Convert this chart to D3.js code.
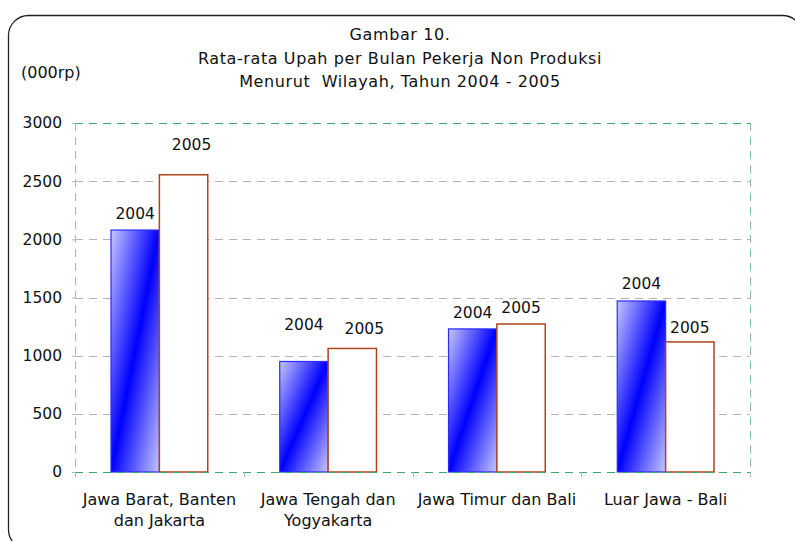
<!DOCTYPE html>
<html>
<head>
<meta charset="utf-8">
<script src="https://cdnjs.cloudflare.com/ajax/libs/d3/7.8.5/d3.min.js"></script>
<style>
  body { margin: 0; background: #fff; }
  svg { display: block; font-family: "DejaVu Sans", Verdana, sans-serif; }
</style>
</head>
<body>
<div id="chart"></div>
<script>
// data
var regions = [["Jawa Barat, Banten", "dan Jakarta"], ["Jawa Tengah dan", "Yogyakarta"], ["Jawa Timur dan Bali"], ["Luar Jawa - Bali"]];
var years = ["2004", "2005"];
var wage2004 = [2080, 950, 1230, 1470];
var wage2005 = [2555, 1062, 1272, 1118];
var yTicks = [0, 500, 1000, 1500, 2000, 2500, 3000];
var titleLines = ["Gambar 10.", "Rata-rata Upah per Bulan Pekerja Non Produksi", "Menurut  Wilayah, Tahun 2004 - 2005"];

// label nudges (px) for the year labels, as placed in the original
var labelLift2004 = [11, 31, 11, 12];
var labelLift2005 = [25, 14, 11, 9];
var labelShift2005 = [8, 12, 0, 0];

var W = 795, H = 541;
var margin = {top: 123, right: 45, bottom: 69, left: 75};
var width = W - margin.left - margin.right,
    height = H - margin.top - margin.bottom;

var svg = d3.select("#chart").append("svg")
    .attr("width", W)
    .attr("height", H);

var defs = svg.append("defs");
var grad = defs.append("linearGradient")
    .attr("id", "blueGrad")
    .attr("x1", 0).attr("y1", 0)
    .attr("x2", 1).attr("y2", 1);
grad.append("stop").attr("offset", "0%").attr("stop-color", "#c6c6ff");
grad.append("stop").attr("offset", "50%").attr("stop-color", "#0000ff");
grad.append("stop").attr("offset", "100%").attr("stop-color", "#c6c6ff");

// outer rounded frame
svg.append("rect")
    .attr("x", 8.5).attr("y", 15.5)
    .attr("width", 794).attr("height", 534)
    .attr("rx", 20).attr("ry", 20)
    .attr("fill", "none")
    .attr("stroke", "#222")
    .attr("stroke-width", 1.3);

// titles
svg.append("g").selectAll("text")
    .data(titleLines)
    .enter().append("text")
    .attr("x", 400)
    .attr("y", function (d, i) { return 40 + i * 23.5; })
    .attr("text-anchor", "middle")
    .attr("font-size", "16px")
    .attr("letter-spacing", "0.6px")
    .style("white-space", "pre")
    .attr("fill", "#111")
    .text(function (d) { return d; });

svg.append("text")
    .attr("x", 21).attr("y", 78)
    .attr("font-size", "16px")
    .attr("fill", "#111")
    .text("(000rp)");

var g = svg.append("g").attr("transform", "translate(" + margin.left + "," + margin.top + ")");

var x0 = d3.scaleBand()
    .domain(d3.range(regions.length))
    .range([0, width])
    .paddingInner(0)
    .paddingOuter(0);

var x1 = d3.scaleBand()
    .domain(years)
    .range([36, x0.bandwidth() - 36]);

var y = d3.scaleLinear()
    .domain([0, 3000])
    .range([height, 0]);

// grey gridlines
g.append("g").selectAll("line")
    .data(yTicks.filter(function (d) { return d > 0 && d < 3000; }))
    .enter().append("line")
    .attr("x1", 0).attr("x2", width)
    .attr("y1", function (d) { return Math.round(y(d)) + 0.5; })
    .attr("y2", function (d) { return Math.round(y(d)) + 0.5; })
    .attr("stroke", "#b4b4b4")
    .attr("stroke-dasharray", "8,6");

// y axis
var axisY = g.append("g")
    .call(d3.axisLeft(y).tickValues(yTicks).tickFormat(d3.format("d")).tickSize(3).tickPadding(10));
axisY.select(".domain").remove();
axisY.selectAll("line").attr("stroke", "#9fc0b0");
axisY.selectAll("text")
    .attr("font-size", "15.5px")
    .attr("font-family", "DejaVu Sans")
    .attr("fill", "#111");

// bars
var groups = g.selectAll(".grp")
    .data(regions)
    .enter().append("g")
    .attr("class", "grp")
    .attr("transform", function (d, i) { return "translate(" + x0(i) + ",0)"; });

groups.append("rect")
    .attr("x", x1("2004"))
    .attr("y", function (d, i) { return y(wage2004[i]); })
    .attr("width", x1.bandwidth())
    .attr("height", function (d, i) { return height - y(wage2004[i]); })
    .attr("fill", "url(#blueGrad)")
    .attr("stroke", "#2a2aff")
    .attr("stroke-width", 1.2);

groups.append("rect")
    .attr("x", x1("2005"))
    .attr("y", function (d, i) { return y(wage2005[i]); })
    .attr("width", x1.bandwidth())
    .attr("height", function (d, i) { return height - y(wage2005[i]); })
    .attr("fill", "#fff")
    .attr("stroke", "#b0441c")
    .attr("stroke-width", 1.5);

// year labels
groups.append("text")
    .attr("x", x1("2004") + x1.bandwidth() / 2)
    .attr("y", function (d, i) { return y(wage2004[i]) - labelLift2004[i]; })
    .attr("text-anchor", "middle")
    .attr("font-size", "15.5px")
    .attr("fill", "#111")
    .text("2004");

groups.append("text")
    .attr("x", function (d, i) { return x1("2005") + x1.bandwidth() / 2 + labelShift2005[i]; })
    .attr("y", function (d, i) { return y(wage2005[i]) - labelLift2005[i]; })
    .attr("text-anchor", "middle")
    .attr("font-size", "15.5px")
    .attr("fill", "#111")
    .text("2005");

// green dashed plot frame
var green = "#3aa86a";
g.append("line")
    .attr("x1", 0).attr("x2", width).attr("y1", 0.5).attr("y2", 0.5)
    .attr("stroke", green).attr("stroke-dasharray", "8,6");
g.append("line")
    .attr("x1", 0.5).attr("x2", 0.5).attr("y1", 0).attr("y2", height)
    .attr("stroke", "#9fc0b0").attr("stroke-dasharray", "8,6");
g.append("line")
    .attr("x1", width + 0.5).attr("x2", width + 0.5).attr("y1", 0).attr("y2", height)
    .attr("stroke", "#7cc09a").attr("stroke-dasharray", "8,6");

// x axis
var axisX = g.append("g")
    .attr("transform", "translate(0," + height + ")");
axisX.append("line")
    .attr("x1", 0).attr("x2", width).attr("y1", 0.5).attr("y2", 0.5)
    .attr("stroke", green).attr("stroke-dasharray", "8,6");
axisX.selectAll(".tk")
    .data(d3.range(regions.length + 1))
    .enter().append("line")
    .attr("x1", function (d) { return Math.round(d * x0.step()) + 0.5; })
    .attr("x2", function (d) { return Math.round(d * x0.step()) + 0.5; })
    .attr("y1", 0).attr("y2", 5)
    .attr("stroke", "#9fc0b0");

axisX.selectAll(".cat")
    .data(regions)
    .enter().append("text")
    .attr("text-anchor", "middle")
    .attr("font-size", "16px")
    .attr("fill", "#111")
    .attr("transform", function (d, i) { return "translate(" + (x0(i) + x0.bandwidth() / 2) + ",33)"; })
    .selectAll("tspan")
    .data(function (d) { return d; })
    .enter().append("tspan")
    .attr("x", 0)
    .attr("dy", function (d, i) { return i === 0 ? 0 : 21; })
    .text(function (d) { return d; });
</script>
</body>
</html>
